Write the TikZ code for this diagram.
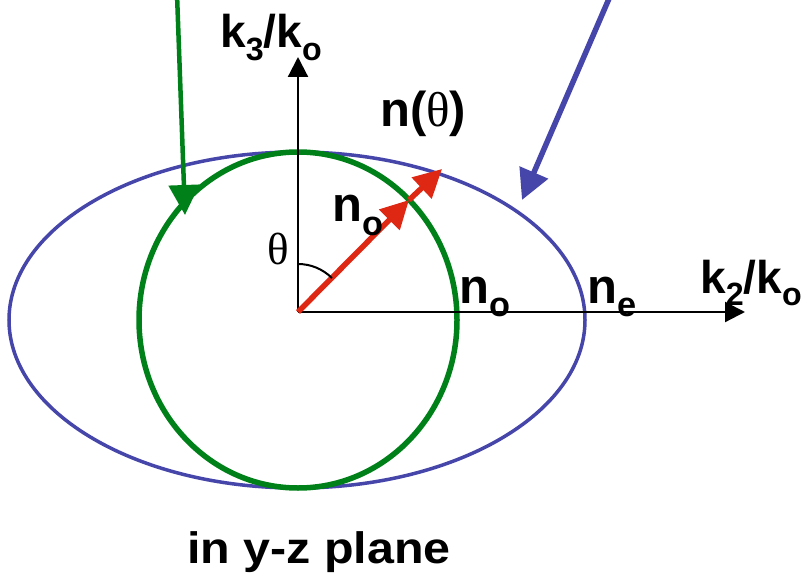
\documentclass[tikz,border=0pt]{standalone}
\usepackage{fontspec}
\setmainfont{Liberation Sans}
\newfontfamily\grk{Liberation Serif}
\usetikzlibrary{arrows.meta}

\definecolor{circgreen}{RGB}{0,128,24}
\definecolor{ellblue}{RGB}{70,70,170}
\definecolor{vecred}{RGB}{222,40,20}
\newcommand{\lowsub}[1]{\raisebox{-0.27em}{\scalebox{0.7}{#1}}}

\tikzset{
  lbl/.style={anchor=base west,inner sep=0pt,font=\fontsize{49}{52}\selectfont\bfseries},
  klbl/.style={lbl,font=\fontsize{46}{50}\selectfont\bfseries},
  axis/.style={line width=2.2pt,-{Triangle[length=20pt,width=20pt]}},
  vecarrow/.style={vecred,line width=5.5pt,-{Triangle[length=28pt,width=28pt]}},
}

\begin{document}
\begin{tikzpicture}[x=1pt,y=-1pt]
\useasboundingbox (0,0) rectangle (805,585);
% index surfaces
\draw[ellblue,line width=3.5pt] (297,320) ellipse [x radius=288, y radius=168];
\draw[circgreen,line width=5.5pt] (298,320) ellipse [x radius=159, y radius=168];
% axes
\coordinate (O) at (298,312);
\coordinate (kz) at (298,57);
\coordinate (ky) at (745,312);
\draw[axis] (O) -- (ky);
\draw[axis] (O) -- (kz);
% n(theta) vector
\coordinate (ncirc) at (409,200);
\coordinate (nell) at (442,169);
\draw[vecarrow] (O) -- (ncirc);
\draw[vecarrow] (ncirc) -- (nell);
\draw[line width=2pt] (O) ++(-90:48) arc[start angle=-90, end angle=-45, radius=48];
% pointers from above
\coordinate (gtop) at (177,-6);
\coordinate (gtip) at (185,215);
\coordinate (btop) at (611,-6);
\coordinate (btip) at (522,200);
\draw[circgreen,line width=4.5pt,-{Triangle[length=30pt,width=30pt]}] (gtop) -- (gtip);
\draw[ellblue,line width=5.5pt,-{Triangle[length=30pt,width=30pt]}] (btop) -- (btip);
% labels
\node[klbl] (k3) at (220,48) {k\lowsub{3}/k\lowsub{o}};
\node[klbl] (k2) at (700,293) {k\lowsub{2}/k\lowsub{o}};
\node[lbl] (nth) at (380,127) {n({\grk\mdseries θ})};
\node[lbl] (no1) at (332,222) {n\lowsub{o}};
\node[lbl] (no2) at (459,303) {n\lowsub{o}};
\node[lbl] (ne) at (587,303) {n\lowsub{e}};
\node[anchor=base west,inner sep=0pt,font=\grk\fontsize{45}{48}\selectfont] (th) at (267,265) {θ};
\node[lbl,font=\fontsize{44}{48}\selectfont\bfseries] (plane) at (187,563) {\scalebox{1.1}[1]{in y-z plane}};
\end{tikzpicture}
\end{document}
